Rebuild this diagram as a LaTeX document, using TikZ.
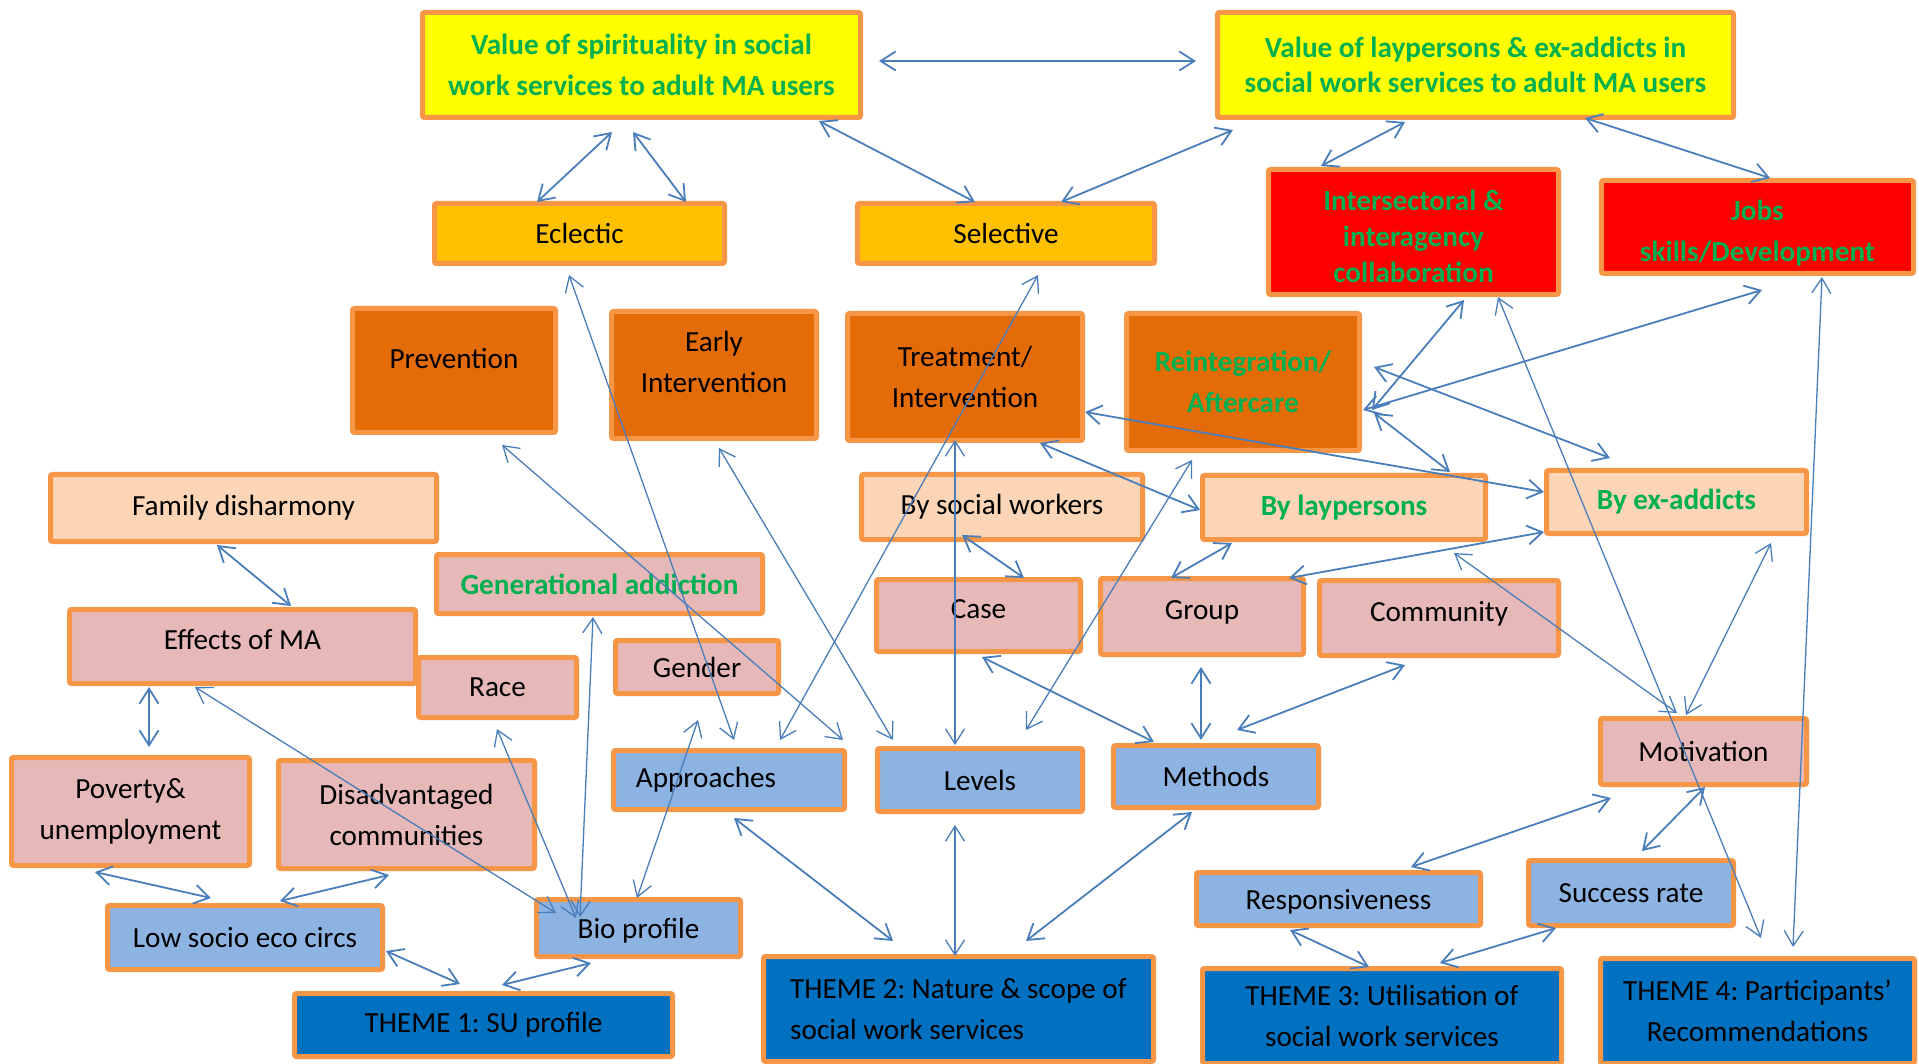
\documentclass[tikz,border=0pt]{standalone}
\usepackage{fontspec}
\setmainfont{Carlito}
\usetikzlibrary{arrows.meta}

\definecolor{frame}{HTML}{F79646}
\definecolor{lemon}{HTML}{FFFF00}
\definecolor{leaf}{HTML}{00B050}
\definecolor{amber}{HTML}{FFC000}
\definecolor{scarlet}{HTML}{FF0000}
\definecolor{rust}{HTML}{E36C09}
\definecolor{peach}{HTML}{FBD5B5}
\definecolor{rose}{HTML}{E6B9B8}
\definecolor{sky}{HTML}{8DB3E2}
\definecolor{navy}{HTML}{0070C0}
\definecolor{wire}{HTML}{4A7EBB}

\begin{document}
\frenchspacing
\begin{tikzpicture}[x=0.5pt, y=-0.5pt,
  box/.style={draw=frame, line width=2.5pt, rounded corners=1pt, inner sep=0pt,
    align=center, font=\fontsize{14.6pt}{20.5pt}\selectfont},
  sz/.style 2 args={minimum width={(#1-5)*0.5pt}, minimum height={(#2-5)*0.5pt}},
  hi/.style={text=leaf, font=\fontsize{14.6pt}{20.5pt}\selectfont\bfseries},
  lowtext/.style={align=center, inner sep=0pt, hi},
  link/.style={wire, line width=0.9pt,
    {Straight Barb[length=7.5pt,width=9.5pt]}-{Straight Barb[length=7.5pt,width=9.5pt]}},
  fine/.style={link, line width=0.65pt},
]
\path[fill=white, use as bounding box] (0,0) rectangle (1919,1064);

% ---------- boxes ----------
\node[box, fill=lemon, hi, sz={443}{110}] (spirit) at (641.5,65)
  {Value of spirituality in social\\work services to adult MA users};
\node[box, fill=lemon, hi, font=\fontsize{14.6pt}{17.5pt}\selectfont\bfseries, sz={521}{110}] (layval) at (1475.5,65)
  {Value of laypersons \& ex-addicts in\\social work services to adult MA users};
\node[box, fill=amber, sz={295}{65}] (eclectic) at (579.5,233.5) {Eclectic};
\node[box, fill=amber, sz={302}{65}] (selective) at (1006,233.5) {Selective};
\node[box, fill=scarlet, sz={295}{130},
  label={[lowtext, font=\fontsize{14.6pt}{18pt}\selectfont\bfseries, yshift=-2pt]center:{Intersectoral \&\\interagency\\collaboration}}]
  (inter) at (1413.5,232) {};
\node[box, fill=scarlet, sz={317}{98},
  label={[lowtext, yshift=-3pt]center:{Jobs\\skills/Development}}]
  (jobs) at (1757.5,227) {};

\node[box, fill=rust, sz={208}{129}, text depth=12pt] (prev) at (454,370.5) {Prevention};
\node[box, fill=rust, sz={210}{132}, text depth=13pt] (early) at (714,375) {Early\\Intervention};
\node[box, fill=rust, sz={240}{132}] (treat) at (965,377) {Treatment/\\Intervention};
\node[box, fill=rust, hi, sz={238}{142}] (reint) at (1243,382) {Reintegration/\\Aftercare};

\node[box, fill=peach, sz={391}{72}] (family) at (243.5,508) {Family disharmony};
\node[box, fill=rose, hi, sz={331}{64}] (gen) at (599.5,584) {Generational addiction};
\node[box, fill=rose, sz={351}{79}, text depth=7.5pt] (effects) at (242.5,646.5) {Effects of MA};
\node[box, fill=rose, sz={163}{65}] (race) at (497.5,687.5) {Race};
\node[box, fill=rose, sz={168}{58}] (gender) at (697,667) {Gender};
\node[box, fill=rose, sz={243}{113}] (poverty) at (130.5,811.5) {Poverty\&\\unemployment};
\node[box, fill=rose, sz={261}{113}] (disadv) at (406.5,814.5) {Disadvantaged\\communities};
\node[box, fill=sky, sz={280}{69}] (lowsoc) at (245,937.5) {Low socio eco circs};
\node[box, fill=sky, sz={209}{62}, text depth=-1pt] (bio) at (638.5,928) {Bio profile};
\node[box, fill=navy, sz={383}{68}] (theme1) at (483.5,1025) {THEME 1: SU profile};

\node[box, fill=sky, sz={236}{64}] (appr) at (729,780) {Approaches\hspace*{23pt}};
\node[box, fill=sky, sz={210}{68}] (levels) at (980,780) {Levels};
\node[box, fill=sky, sz={210}{67}] (methods) at (1216,776.5) {Methods};
\node[box, fill=navy, sz={395}{110}, align=left] (theme2) at (958.5,1009)
  {THEME 2: Nature \& scope of\\social work services};

\node[box, fill=peach, sz={286}{70}] (bysw) at (1002,507) {By social workers};
\node[box, fill=peach, hi, sz={288}{69}] (bylay) at (1344,507.5) {By laypersons};
\node[box, fill=peach, hi, sz={265}{68}] (byex) at (1676.5,502) {By ex-addicts};
\node[box, fill=rose, sz={209}{77}, text depth=6.5pt] (case) at (978.5,615.5) {Case};
\node[box, fill=rose, sz={208}{81}, text depth=6.4pt] (group) at (1202,616.5) {Group};
\node[box, fill=rose, sz={244}{80}, text depth=7pt] (community) at (1439,618) {Community};
\node[box, fill=rose, sz={211}{71}] (motivation) at (1703.5,751.5) {Motivation};
\node[box, fill=sky, sz={289}{58}, text depth=-3pt] (resp) at (1338.5,899) {Responsiveness};
\node[box, fill=sky, sz={210}{70}] (success) at (1631,893) {Success rate};
\node[box, fill=navy, sz={364}{100}] (theme3) at (1382,1016)
  {THEME 3: Utilisation of\\social work services};
\node[box, fill=navy, sz={319}{110}] (theme4) at (1757.5,1011)
  {THEME 4: Participants’\\Recommendations};

% ---------- connectors: top row ----------
\draw[link] ([shift={(237.5,-4)}]spirit.center) -- ([shift={(-279.5,-4)}]layval.center);
\draw[link] ([shift={(-29.5,67)}]spirit.center) -- ([shift={(-42.5,-31.5)}]eclectic.center);
\draw[link] ([shift={(-8.5,67)}]spirit.center) -- ([shift={(106.5,-31.5)}]eclectic.center);
\draw[link] ([shift={(177.5,56)}]spirit.center) -- ([shift={(-31,-31.5)}]selective.center);
\draw[link] ([shift={(-242.5,65)}]layval.center) -- ([shift={(55,-31.5)}]selective.center);
\draw[link] ([shift={(-70.5,57)}]layval.center) -- ([shift={(-92.5,-66)}]inter.center);
\draw[link] ([shift={(109.5,53)}]layval.center) -- ([shift={(12.5,-49)}]jobs.center);

% ---------- connectors: approaches, levels, methods ----------
\draw[fine] ([shift={(-10.5,41.5)}]eclectic.center) -- ([shift={(5,-40)}]appr.center);
\draw[fine] ([shift={(32,41.5)}]selective.center) -- ([shift={(51,-40)}]appr.center);
\draw[fine] ([shift={(48,74.5)}]prev.center) -- ([shift={(114,-40)}]appr.center);
\draw[fine] ([shift={(5,73)}]early.center) -- ([shift={(-87,-40)}]levels.center);
\draw[fine] ([shift={(-10,63)}]treat.center) -- ([shift={(-25,-35)}]levels.center);
\draw[fine] ([shift={(-51,78)}]reint.center) -- ([shift={(46,-50)}]levels.center);
\draw[link] ([shift={(3.5,41.5)}]case.center) -- ([shift={(-62,-34.5)}]methods.center);
\draw[link] ([shift={(-1,50.5)}]group.center) -- ([shift={(-15,-36.5)}]methods.center);
\draw[link] ([shift={(-34,47)}]community.center) -- ([shift={(21,-46.5)}]methods.center);

% ---------- connectors: theme 1 cluster ----------
\draw[link] ([shift={(-93.5,40.5)}]effects.center) -- ([shift={(18.5,-64.5)}]poverty.center);
\draw[link] ([shift={(-26.5,37)}]family.center) -- ([shift={(48.5,-40.5)}]effects.center);
\draw[fine] ([shift={(-47.5,40.5)}]effects.center) -- ([shift={(-82.5,-15)}]bio.center);
\draw[fine] ([shift={(-0.5,41.5)}]race.center) -- ([shift={(-62.5,-10)}]bio.center);
\draw[fine] ([shift={(-6.5,33)}]gen.center) -- ([shift={(-58.5,-11)}]bio.center);
\draw[fine] ([shift={(1,53)}]gender.center) -- ([shift={(-1.5,-30)}]bio.center);
\draw[link] ([shift={(-35.5,60.5)}]poverty.center) -- ([shift={(-34,-39.5)}]lowsoc.center);
\draw[link] ([shift={(-17.5,60.5)}]disadv.center) -- ([shift={(35,-36.5)}]lowsoc.center);
\draw[link] ([shift={(141,13.5)}]lowsoc.center) -- ([shift={(-23.5,-41)}]theme1.center);
\draw[link] ([shift={(-47.5,35)}]bio.center) -- ([shift={(18.5,-40)}]theme1.center);

% ---------- connectors: theme 2 ----------
\draw[link] ([shift={(5,38)}]appr.center) -- ([shift={(-65.5,-68)}]theme2.center);
\draw[fine] ([shift={(-25,45)}]levels.center) -- ([shift={(-3.5,-53)}]theme2.center);
\draw[link] ([shift={(-24,35.5)}]methods.center) -- ([shift={(67.5,-68)}]theme2.center);

% ---------- connectors: service providers and themes 3, 4 ----------
\draw[link] ([shift={(-40,28)}]bysw.center) -- ([shift={(45.5,-37.5)}]case.center);
\draw[link] ([shift={(75,66)}]treat.center) -- ([shift={(-144,2.5)}]bylay.center);
\draw[link] ([shift={(-112,35.5)}]bylay.center) -- ([shift={(-31,-38.5)}]group.center);
\draw[link] ([shift={(87,-38.5)}]group.center) -- ([shift={(-132.5,30)}]byex.center);
\draw[link] ([shift={(120,35)}]treat.center) -- ([shift={(-132.5,-10)}]byex.center);
\draw[link] ([shift={(129,28)}]reint.center) -- ([shift={(50.5,68)}]inter.center);
\draw[link] ([shift={(120,28)}]reint.center) -- ([shift={(4.5,63)}]jobs.center);
\draw[link] ([shift={(131,-15)}]reint.center) -- ([shift={(-66.5,-44)}]byex.center);
\draw[link] ([shift={(131,31)}]reint.center) -- ([shift={(106,-35.5)}]bylay.center);
\draw[fine] ([shift={(110,45.5)}]bylay.center) -- ([shift={(-26.5,-38.5)}]motivation.center);
\draw[fine] ([shift={(94.5,41)}]byex.center) -- ([shift={(-17.5,-36.5)}]motivation.center);
\draw[fine] ([shift={(84.5,65)}]inter.center) -- ([shift={(3.5,-73)}]theme4.center);
\draw[fine] ([shift={(64.5,50)}]jobs.center) -- ([shift={(35.5,-64)}]theme4.center);
\draw[link] ([shift={(-92.5,46.5)}]motivation.center) -- ([shift={(72.5,-32)}]resp.center);
\draw[link] ([shift={(1.5,35.5)}]motivation.center) -- ([shift={(11,-42)}]success.center);
\draw[link] ([shift={(-48.5,31)}]resp.center) -- ([shift={(-13,-49)}]theme3.center);
\draw[link] ([shift={(-75,35)}]success.center) -- ([shift={(58,-53)}]theme3.center);
\end{tikzpicture}
\end{document}
